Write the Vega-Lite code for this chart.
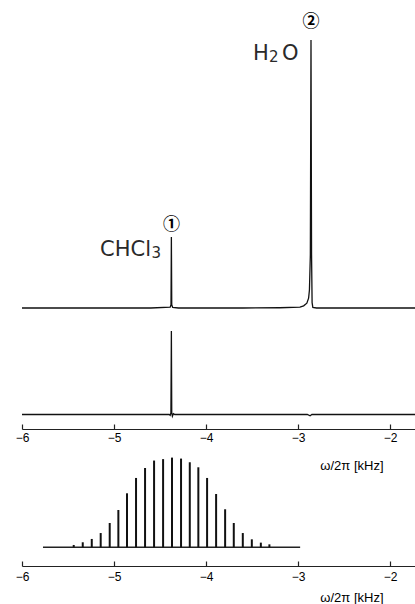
{
  "$schema": "https://vega.github.io/schema/vega-lite/v6.json",
  "width": 393,
  "height": 566,
  "autosize": {"type": "none"},
  "padding": {"left": 22, "top": 0, "right": 0, "bottom": 38},
  "background": "white",
  "config": {
    "view": {"stroke": null},
    "axis": {
      "grid": false,
      "domainColor": "#222",
      "domainWidth": 1.2,
      "tickColor": "#222",
      "tickWidth": 1.2,
      "tickSize": -5,
      "labelFont": "Liberation Sans",
      "labelFontSize": 12,
      "labelColor": "#000",
      "labelFlush": false,
      "format": "d",
      "titleFont": "Liberation Sans",
      "titleFontSize": 13,
      "titleFontWeight": "normal",
      "titleColor": "#000",
      "titleAlign": "right",
      "titleBaseline": "middle"
    }
  },
  "datasets": {
    "top": [
      {"f": -6.0, "v": 0}, {"f": -5.5, "v": 0}, {"f": -5.0, "v": 0}, {"f": -4.6, "v": 0},
      {"f": -4.39, "v": 0.003}, {"f": -4.381, "v": 0.012}, {"f": -4.377, "v": 0.265},
      {"f": -4.373, "v": 0.012}, {"f": -4.363, "v": 0.002}, {"f": -4.3, "v": 0},
      {"f": -3.6, "v": 0}, {"f": -3.2, "v": 0.001}, {"f": -2.98, "v": 0.003},
      {"f": -2.94, "v": 0.008}, {"f": -2.905, "v": 0.018}, {"f": -2.886, "v": 0.037},
      {"f": -2.877, "v": 0.067}, {"f": -2.867, "v": 0.2}, {"f": -2.86, "v": 1.0},
      {"f": -2.854, "v": 0.2}, {"f": -2.848, "v": 0.02}, {"f": -2.84, "v": 0.002},
      {"f": -2.8, "v": 0}, {"f": -1.6, "v": 0}
    ],
    "topLabels": [
      {"f": -5.152, "v": 0.194, "t": "CHCl"},
      {"f": -3.489, "v": 0.925, "t": "H"},
      {"f": -3.175, "v": 0.925, "t": "O"}
    ],
    "topSubs": [
      {"f": -4.592, "v": 0.187, "t": "3"},
      {"f": -3.315, "v": 0.918, "t": "2"}
    ],
    "topCircles": [
      {"f": -4.376, "v": 0.31, "t": "①"},
      {"f": -2.859, "v": 1.068, "t": "②"}
    ],
    "middle": [
      {"f": -6.0, "v": 0}, {"f": -5.0, "v": 0}, {"f": -4.4, "v": 0},
      {"f": -4.39, "v": -0.01}, {"f": -4.382, "v": 0.02}, {"f": -4.377, "v": 1.0},
      {"f": -4.373, "v": 0.02}, {"f": -4.366, "v": -0.02}, {"f": -4.355, "v": 0.01},
      {"f": -4.34, "v": 0}, {"f": -2.9, "v": 0}, {"f": -2.87, "v": -0.015},
      {"f": -2.85, "v": 0}, {"f": -1.6, "v": 0}
    ],
    "comb": [
      {"f": -5.438, "h": 0.026}, {"f": -5.340, "h": 0.056}, {"f": -5.242, "h": 0.093},
      {"f": -5.145, "h": 0.159}, {"f": -5.047, "h": 0.271}, {"f": -4.953, "h": 0.416},
      {"f": -4.859, "h": 0.602}, {"f": -4.761, "h": 0.773}, {"f": -4.663, "h": 0.884},
      {"f": -4.565, "h": 0.967}, {"f": -4.467, "h": 0.983}, {"f": -4.370, "h": 1.0},
      {"f": -4.272, "h": 0.989}, {"f": -4.177, "h": 0.948}, {"f": -4.084, "h": 0.892},
      {"f": -3.989, "h": 0.773}, {"f": -3.891, "h": 0.594}, {"f": -3.793, "h": 0.424},
      {"f": -3.699, "h": 0.271}, {"f": -3.601, "h": 0.159}, {"f": -3.503, "h": 0.089},
      {"f": -3.405, "h": 0.052}, {"f": -3.312, "h": 0.033}
    ],
    "combBase": [
      {"start": -5.772, "end": -2.978, "level": 0}
    ]
  },
  "layer": [
    {
      "layer": [
        {
          "data": {"name": "top"},
          "mark": {"type": "line", "color": "#111", "strokeWidth": 1.3, "interpolate": "linear"},
          "encoding": {
            "x": {"field": "f", "type": "quantitative", "scale": {"domain": [-6, -1.73], "nice": false, "zero": false}, "axis": null},
            "y": {"field": "v", "type": "quantitative", "scale": {"domain": [-0.9627, 1.1493], "nice": false, "zero": false}, "axis": null}
          }
        },
        {
          "data": {"name": "topLabels"},
          "mark": {"type": "text", "font": "DejaVu Sans", "fontSize": 21, "align": "left", "baseline": "alphabetic", "color": "#2a2a2a"},
          "encoding": {
            "x": {"field": "f", "type": "quantitative"},
            "y": {"field": "v", "type": "quantitative"},
            "text": {"field": "t"}
          }
        },
        {
          "data": {"name": "topSubs"},
          "mark": {"type": "text", "font": "DejaVu Sans", "fontSize": 15, "align": "left", "baseline": "alphabetic", "color": "#2a2a2a"},
          "encoding": {
            "x": {"field": "f", "type": "quantitative"},
            "y": {"field": "v", "type": "quantitative"},
            "text": {"field": "t"}
          }
        },
        {
          "data": {"name": "topCircles"},
          "mark": {"type": "text", "font": "Noto Sans CJK JP", "fontSize": 17, "fontWeight": "bold", "align": "center", "baseline": "middle", "color": "#000"},
          "encoding": {
            "x": {"field": "f", "type": "quantitative"},
            "y": {"field": "v", "type": "quantitative"},
            "text": {"field": "t"}
          }
        }
      ]
    },
    {
      "data": {"name": "middle"},
      "mark": {"type": "line", "color": "#111", "strokeWidth": 1.3},
      "encoding": {
        "x": {"field": "f", "type": "quantitative", "scale": {"domain": [-6, -1.73], "nice": false, "zero": false},
              "axis": {"orient": "bottom", "values": [-6, -5, -4, -3, -2], "offset": -137, "labelPadding": 8, "title": "ω/2π [kHz]", "titleX": 361, "titleY": 36}},
        "y": {"field": "v", "type": "quantitative", "scale": {"domain": [-1.814, 4.964], "nice": false, "zero": false}, "axis": null}
      }
    },
    {
      "layer": [
        {
          "data": {"name": "combBase"},
          "mark": {"type": "rule", "color": "#222", "strokeWidth": 1.5},
          "encoding": {
            "x": {"field": "start", "type": "quantitative", "scale": {"domain": [-6, -1.73], "nice": false, "zero": false},
                  "axis": {"orient": "bottom", "values": [-6, -5, -4, -3, -2], "offset": 0, "labelPadding": 10, "title": "ω/2π [kHz]", "titleX": 361, "titleY": 31}},
            "x2": {"field": "end"},
            "y": {"field": "level", "type": "quantitative", "scale": {"domain": [-0.2085, 6.1014], "nice": false, "zero": false}, "axis": null}
          }
        },
        {
          "data": {"name": "comb"},
          "mark": {"type": "rule", "color": "#111", "strokeWidth": 2},
          "encoding": {
            "x": {"field": "f", "type": "quantitative"},
            "y": {"field": "h", "type": "quantitative"},
            "y2": {"datum": 0}
          }
        }
      ]
    }
  ],
  "resolve": {"scale": {"x": "independent", "y": "independent"}, "axis": {"x": "independent"}}
}
